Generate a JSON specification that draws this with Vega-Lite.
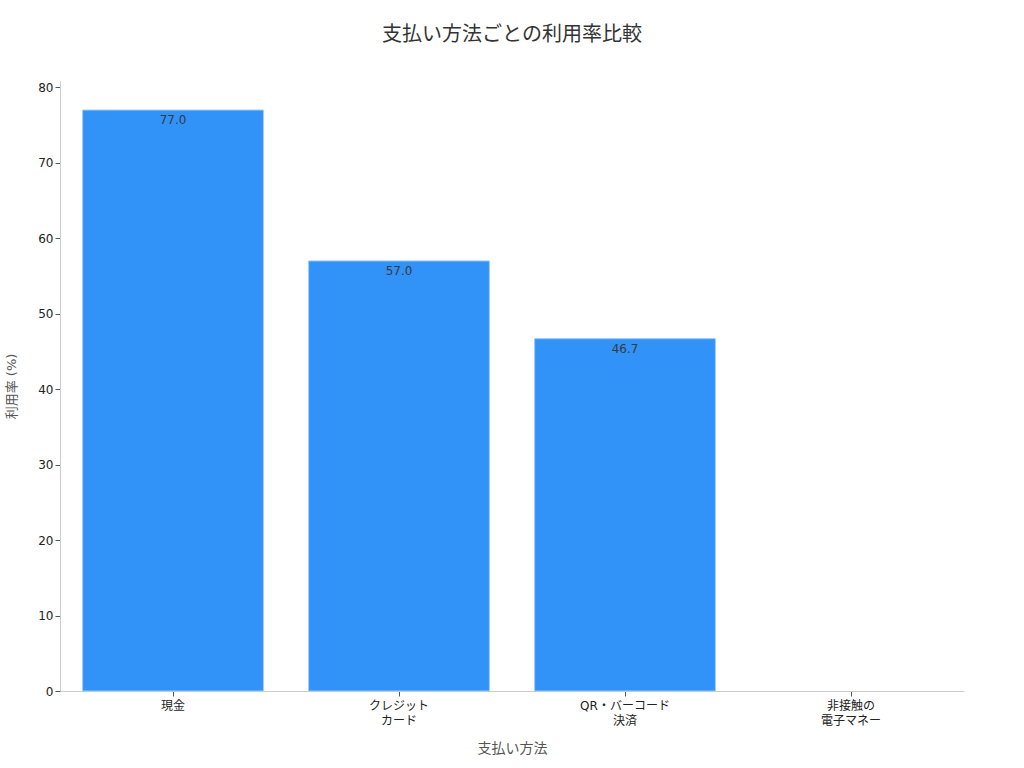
{
  "$schema": "https://vega.github.io/schema/vega-lite/v6.json",
  "width": 904,
  "height": 610,
  "autosize": "none",
  "padding": {"left": 60, "top": 81, "right": 60, "bottom": 77},
  "background": "white",
  "title": {
    "text": "支払い方法ごとの利用率比較",
    "fontSize": 20,
    "fontWeight": "normal",
    "color": "#333333",
    "font": "DejaVu Sans, Noto Sans CJK JP",
    "anchor": "middle",
    "offset": 36
  },
  "data": {
    "values": [
      {"method": "現金", "rate": 77.0},
      {"method": "クレジット\nカード", "rate": 57.0},
      {"method": "QR・バーコード\n決済", "rate": 46.7},
      {"method": "非接触の\n電子マネー", "rate": null}
    ]
  },
  "encoding": {
    "x": {
      "field": "method",
      "type": "nominal",
      "sort": null,
      "title": "支払い方法",
      "scale": {
        "domain": ["現金", "クレジット\nカード", "QR・バーコード\n決済", "非接触の\n電子マネー"],
        "paddingInner": 0.2,
        "paddingOuter": 0.1
      },
      "axis": {
        "labelAngle": 0,
        "labelExpr": "split(datum.label, '\\n')",
        "labelFontSize": 12,
        "labelColor": "#222222",
        "labelPadding": 4,
        "labelLineHeight": 15,
        "titleFontSize": 14,
        "titleColor": "#555555",
        "titleFontWeight": "normal",
        "titlePadding": 15
      }
    },
    "y": {
      "field": "rate",
      "type": "quantitative",
      "title": "利用率 (%)",
      "scale": {"domain": [0, 80.85], "nice": false},
      "axis": {
        "values": [0, 10, 20, 30, 40, 50, 60, 70, 80],
        "labelFontSize": 12,
        "labelColor": "#222222",
        "titleFontSize": 13,
        "titleColor": "#555555",
        "titleFontWeight": "normal",
        "titlePadding": 19,
        "grid": false
      }
    }
  },
  "layer": [
    {
      "mark": {"type": "bar", "color": "#3192f8", "stroke": "#9ccbfb", "strokeWidth": 1}
    },
    {
      "transform": [{"filter": "datum.rate != null"}],
      "mark": {
        "type": "text",
        "baseline": "top",
        "dy": 5,
        "fontSize": 12,
        "color": "#3a3a3a",
        "font": "DejaVu Sans"
      },
      "encoding": {
        "text": {"field": "rate", "type": "quantitative", "format": ".1f"}
      }
    }
  ],
  "config": {
    "view": {"stroke": null},
    "font": "DejaVu Sans, Noto Sans CJK JP",
    "axis": {
      "labelFont": "DejaVu Sans, Noto Sans CJK JP",
      "titleFont": "DejaVu Sans, Noto Sans CJK JP",
      "domainColor": "#cccccc",
      "tickColor": "#555555",
      "tickSize": 5
    }
  }
}
